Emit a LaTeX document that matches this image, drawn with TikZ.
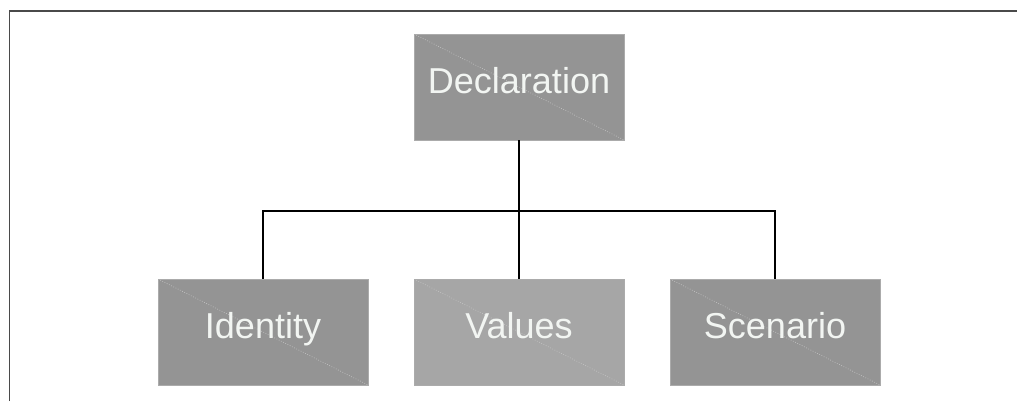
\documentclass[tikz,border=0pt]{standalone}
\usepackage{fontspec}
\setmainfont{Liberation Sans}
\definecolor{boxdark}{HTML}{949494}
\definecolor{boxlight}{HTML}{A6A6A6}
\definecolor{boxedge}{HTML}{ABABAB}
\definecolor{boxdiag}{HTML}{C4C4C4}
\definecolor{boxtext}{HTML}{F2F5F2}
\definecolor{framegray}{HTML}{4A4A4A}
\tikzset{
  part/.style={rectangle, draw=boxedge, line width=0.4pt, minimum width=4.2cm, minimum height=2.12cm,
    text=boxtext, font=\fontsize{20.5}{24}\selectfont, text height=0.85em, text depth=0.15em,
    path picture={\draw[boxdiag, densely dotted, line width=0.4pt]
      (path picture bounding box.north west) -- (path picture bounding box.south east);}},
  link/.style={black, line width=0.8pt}
}
\begin{document}
\begin{tikzpicture}
\useasboundingbox (0,0) rectangle (20.34,-8.02);
\draw[framegray, line width=1.1pt] (0.19,-8.02) -- (0.19,-0.22) -- (20.34,-0.22);
\node[part, fill=boxdark] (decl) at (10.38,-1.74){Declaration};
\node[part, fill=boxdark] (ident) at (5.26,-6.64){Identity};
\node[part, fill=boxlight] (vals) at (10.38,-6.64){Values};
\node[part, fill=boxdark] (scen) at (15.5,-6.64){Scenario};
\coordinate (bus) at (10.38,-4.22);
\draw[link](decl) -- (bus);
\draw[link](bus) -| (ident);
\draw[link](bus) -- (vals);
\draw[link](bus) -| (scen);
\end{tikzpicture}
\end{document}
